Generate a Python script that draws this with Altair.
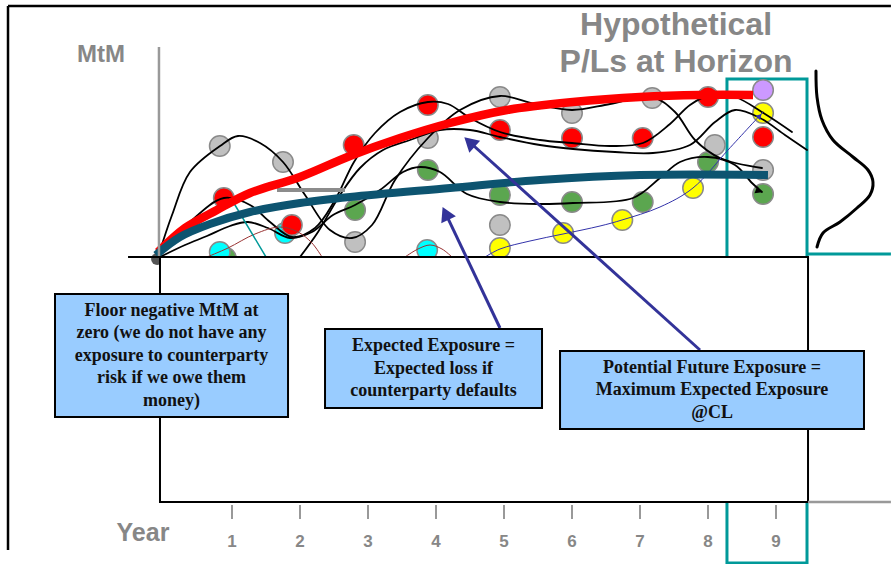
import math
import altair as alt
import pandas as pd

# ---------------------------------------------------------------- canvas
WIDTH, HEIGHT = 891, 564
YEAR_DOMAIN = [-2.4118, 10.6912]   # horizontal axis: years
MTM_DOMAIN = [-15.35, 12.85]       # vertical axis: mark-to-market units

# ---------------------------------------------------- simulated MtM dots
grey_x = [0.82, 1.75, 2.81, 3.88, 4.94, 4.94, 6.0, 7.18, 8.1, 8.81]
grey_y = [5.55, 4.75, 0.75, 5.95, 8.0, 1.6, 7.2, 7.95, 5.6, 4.35]
green_x = [0.91, 2.81, 3.88, 4.94, 6.0, 7.04, 8.0, 8.81]
green_y = [-0.05, 2.35, 4.35, 3.1, 2.75, 2.75, 4.75, 3.15]
cyan_x = [0.82, 1.78, 3.87]
cyan_y = [0.25, 1.2, 0.35]
yellow_x = [4.94, 5.87, 6.74, 7.78, 8.81]
yellow_y = [0.45, 1.2, 1.85, 3.45, 7.2]
red_x = [0.88, 1.88, 2.79, 3.88, 4.94, 6.0, 7.04, 8.0, 8.81]
red_y = [2.95, 1.6, 5.6, 7.6, 6.35, 5.95, 5.95, 8.0, 6.0]
purple_x = [8.81]
purple_y = [8.35]
origin_x = [-0.1]
origin_y = [-0.1]

# ------------------------------------------------ simulated MtM paths
path_a_x = [-0.088, 0.118, 0.382, 0.824, 1.088, 1.412, 1.75, 2.074, 2.441, 2.765, 3.059, 3.397,
            3.882, 4.353, 4.941, 5.456, 6.0, 6.559, 7.176, 7.515, 7.809, 8.176, 8.794]
path_a_y = [0, 2.1, 4.25, 5.55, 6.05, 5.7, 4.75, 3.1, 1.35, 0.95, 1.6, 3.85,
            5.95, 7.35, 8.05, 7.65, 7.35, 7.65, 8.0, 7.25, 5.85, 4.95, 4.45]
path_b_x = [-0.088, 0.382, 0.882, 1.265, 1.559, 1.882, 2.221, 2.515, 2.794, 3.103, 3.471, 3.882,
            4.176, 4.5, 4.941, 5.529, 6.0, 6.559, 7.044, 7.441, 7.735, 8.029, 8.397, 8.838, 9.235]
path_b_y = [0, 1.75, 2.95, 2.6, 1.75, 1.0, 1.45, 2.85, 4.75, 6.2, 7.25, 7.75,
            7.65, 6.95, 6.25, 5.85, 5.7, 5.55, 5.7, 6.65, 7.6, 8.1, 8.0, 7.15, 6.25]
path_c_x = [-0.059, 0.309, 0.632, 0.971, 1.235, 1.529, 1.853, 2.176, 2.485, 2.809, 3.176, 3.515,
            3.765, 4.059, 4.456, 4.941, 5.529, 6.015, 6.897, 7.294, 7.588, 8.0, 8.397, 8.647, 8.794]
path_c_y = [0, 0.6, 1.05, 1.55, 1.75, 1.45, 0.95, 1.25, 2.1, 2.6, 3.35, 4.25,
            4.5, 4.25, 3.15, 2.75, 2.65, 2.7, 2.95, 3.95, 4.75, 5.0, 4.6, 3.7, 3.25]
path_d_x = [2.0, 2.265, 2.588, 2.882, 3.221, 3.618, 4.059, 4.5, 4.941, 5.529, 6.015, 6.632,
            7.191, 7.735, 8.103, 8.397, 8.765, 9.132, 9.456]
path_d_y = [0, 1.25, 3.1, 4.45, 5.35, 5.85, 6.35, 6.35, 6.0, 5.6, 5.4, 5.25,
            5.2, 5.6, 6.75, 7.35, 6.95, 6.1, 5.35]

yellow_path_x = [4.721, 4.941, 5.382, 5.868, 6.412, 6.735, 7.294, 7.779, 8.294, 8.809]
yellow_path_y = [0, 0.4, 0.8, 1.15, 1.55, 1.85, 2.5, 3.45, 5.35, 7.25]
floored_a_x = [0.632, 0.941, 1.338, 1.706, 1.971, 2.176, 2.324]
floored_a_y = [0, 0.45, 1.15, 1.5, 1.25, 0.7, 0]
floored_b_x = [3.544, 3.735, 3.912, 4.088, 4.235]
floored_b_y = [0, 0.4, 0.6, 0.4, 0]
cyan_drop_x = [1.0, 1.5]
cyan_drop_y = [2.85, 0]

# ------------------------------------------------ exposure profiles
pfe_x = [-0.088, 0.309, 0.779, 1.265, 2.0, 2.735, 3.471, 4.206, 5.044, 6.015, 7.0, 7.882, 8.662]
pfe_y = [0.25, 1.45, 2.35, 3.2, 4.0, 5.05, 5.95, 6.7, 7.35, 7.75, 8.0, 8.1, 8.1]
ee_x = [-0.118, 0.235, 0.676, 1.265, 2.0, 2.735, 4.206, 5.529, 7.0, 8.882]
ee_y = [0.1, 1.0, 1.65, 2.25, 2.7, 3.0, 3.45, 3.85, 4.1, 4.1]

# distribution of P/Ls at the horizon (drawn sideways)
bell_x = [9.588, 9.603, 9.676, 9.838, 10.132, 10.353, 10.426, 10.382, 10.191, 9.941, 9.691, 9.603]
bell_y = [9.3, 8.0, 6.85, 5.85, 5.0, 4.35, 3.75, 3.1, 2.45, 1.75, 1.2, 0.5]

# ------------------------------------------------ axis labels
year_ticks = [1, 2, 3, 4, 5, 6, 7, 8, 9]

# ------------------------------------------------ callouts
callout_text = [
    "Floor negative MtM at\nzero (we do not have any\nexposure to counterparty\nrisk if we owe them\nmoney)",
    "Expected Exposure =\nExpected loss if\ncounterparty defaults",
    "Potential Future Exposure =\nMaximum Expected Exposure\n@CL",
]
callout_x = [-1.603, 2.368, 5.824]
callout_x2 = [1.824, 5.559, 10.294]
callout_y = [-1.85, -3.6, -4.7]
callout_y2 = [-8.0, -7.55, -8.6]

arrow_tail_x = [4.941, 7.882]
arrow_tail_y = [-3.55, -4.65]
arrow_head_x = [4.141, 4.493]
arrow_head_y = [2.18, 5.75]

# ================================================================ chart
xs = alt.Scale(domain=YEAR_DOMAIN, nice=False, zero=False)
ys = alt.Scale(domain=MTM_DOMAIN, nice=False, zero=False)
PX_X = WIDTH / (YEAR_DOMAIN[1] - YEAR_DOMAIN[0])
PX_Y = HEIGHT / (MTM_DOMAIN[1] - MTM_DOMAIN[0])
LINE_H = 22.5


def X(f="x"):
    return alt.X(f"{f}:Q", scale=xs, axis=None)


def Y(f="y"):
    return alt.Y(f"{f}:Q", scale=ys, axis=None)


def path_frame(paths):
    rows = []
    for name, (px, py) in paths.items():
        for i, (a, b) in enumerate(zip(px, py)):
            rows.append({"path": name, "i": i, "x": a, "y": b})
    return pd.DataFrame(rows)


def curve(paths, color, width, interp="catmull-rom", cap="round"):
    return alt.Chart(path_frame(paths)).mark_line(
        interpolate=interp, color=color, strokeWidth=width, strokeCap=cap
    ).encode(x=X(), y=Y(), detail="path:N", order="i:Q")


def segments(rows):
    return alt.Chart(pd.DataFrame(rows)).mark_rule().encode(
        x=X("x"), x2=alt.X2("x2:Q"), y=Y("y"), y2=alt.Y2("y2:Q"),
        color=alt.Color("c:N", scale=None),
        strokeWidth=alt.StrokeWidth("w:Q", scale=None),
    )


def arrow_angle(tx, ty, hx, hy):
    dx = (hx - tx) * PX_X
    dy = -(hy - ty) * PX_Y
    return math.degrees(math.atan2(dx, -dy)) % 360


TEAL = "#009999"
GREY_TXT = "#878787"

# horizon window
horizon_box = alt.Chart(pd.DataFrame({"x": [8.279], "x2": [9.456], "y": [8.9], "y2": [-15.3]})).mark_rect(
    fill=None, stroke=TEAL, strokeWidth=3
).encode(x=X(), x2=alt.X2("x2:Q"), y=Y(), y2=alt.Y2("y2:Q"))

# dots
dot_series = [
    ("#5BA64F", green_x, green_y),
    ("#00FFFF", cyan_x, cyan_y),
    ("#C0C0C0", grey_x, grey_y),
    ("#FFFF00", yellow_x, yellow_y),
    ("#FF0000", red_x, red_y),
    ("#CC99FF", purple_x, purple_y),
]
dot_rows = []
for fill, dx, dy in dot_series:
    for a, b in zip(dx, dy):
        dot_rows.append({"x": a, "y": b, "fill": fill})
dots = alt.Chart(pd.DataFrame(dot_rows)).mark_circle(
    size=420, opacity=1, stroke="#8a8a8a", strokeWidth=1.5
).encode(x=X(), y=Y(), fill=alt.Fill("fill:N", scale=None))

origin_dot = alt.Chart(pd.DataFrame({"x": origin_x, "y": origin_y})).mark_circle(
    size=150, opacity=1, color="#555555"
).encode(x=X(), y=Y())

black_paths = curve({"a": (path_a_x, path_a_y), "b": (path_b_x, path_b_y),
                     "c": (path_c_x, path_c_y), "d": (path_d_x, path_d_y)}, "black", 1.8)
yellow_path = curve({"y": (yellow_path_x, yellow_path_y)}, "#3333AA", 1)
floored = curve({"fa": (floored_a_x, floored_a_y), "fb": (floored_b_x, floored_b_y)}, "#993333", 1)
cyan_drop = curve({"cd": (cyan_drop_x, cyan_drop_y)}, TEAL, 1.5, interp="linear")

grey_bar = segments([{"x": 1.662, "x2": 2.662, "y": 3.35, "y2": 3.35, "c": "#8c8c8c", "w": 4}])

pfe_line = curve({"pfe": (pfe_x, pfe_y)}, "#FF0000", 8.5, cap="butt")
ee_line = curve({"ee": (ee_x, ee_y)}, "#0D5470", 8, cap="butt")
bell = curve({"bell": (bell_x, bell_y)}, "black", 3)

# small arrowheads on the horizon
small_heads = pd.DataFrame({
    "x": [8.75, 8.76], "y": [3.3, 7.05],
    "angle": [arrow_angle(8.35, 3.85, 8.75, 3.3), arrow_angle(8.294, 5.35, 8.76, 7.05)],
    "c": ["black", "#3333AA"], "s": [60, 40],
})
small_head_marks = alt.Chart(small_heads).mark_point(shape="triangle-up", filled=True, opacity=1).encode(
    x=X(), y=Y(), angle=alt.Angle("angle:Q", scale=None),
    color=alt.Color("c:N", scale=None), size=alt.Size("s:Q", scale=None),
)

# white panel below zero
panel = alt.Chart(pd.DataFrame({"x": [-0.059], "x2": [9.471], "y": [0], "y2": [-12.25]})).mark_rect(
    fill="white", stroke="black", strokeWidth=2
).encode(x=X(), x2=alt.X2("x2:Q"), y=Y(), y2=alt.Y2("y2:Q"))

frame_rows = [
    {"x": -2.294, "x2": 10.69, "y": 12.55, "y2": 12.55, "c": "black", "w": 2.5},
    {"x": -2.294, "x2": -2.294, "y": 12.55, "y2": -14.65, "c": "black", "w": 2.5},
    {"x": -0.074, "x2": -0.074, "y": 10.5, "y2": 0.05, "c": "#999999", "w": 2.5},
    {"x": -0.529, "x2": -0.059, "y": 0, "y2": 0, "c": "black", "w": 2},
    {"x": 9.471, "x2": 10.69, "y": 0.15, "y2": 0.15, "c": TEAL, "w": 3},
    {"x": 9.471, "x2": 10.69, "y": -12.25, "y2": -12.25, "c": "#999999", "w": 2.5},
]
for t in year_ticks:
    frame_rows.append({"x": t, "x2": t, "y": -12.4, "y2": -13.1, "c": "#999999", "w": 2})
frame = segments(frame_rows)

# callout arrows
arrow_df = pd.DataFrame({
    "x": arrow_tail_x, "y": arrow_tail_y, "x2": arrow_head_x, "y2": arrow_head_y,
})
arrow_df["angle"] = [arrow_angle(a, b, c, d) for a, b, c, d in
                     zip(arrow_tail_x, arrow_tail_y, arrow_head_x, arrow_head_y)]
arrow_lines = alt.Chart(arrow_df).mark_rule(color="#333399", strokeWidth=3).encode(
    x=X("x"), y=Y("y"), x2=alt.X2("x2:Q"), y2=alt.Y2("y2:Q"))
arrow_heads = alt.Chart(arrow_df).mark_point(
    shape="triangle-up", filled=True, opacity=1, color="#333399", size=260
).encode(x=X("x2"), y=Y("y2"), angle=alt.Angle("angle:Q", scale=None))

# callout boxes; multi-line text is anchored on its first line, so lift it
# by half the block height to centre it in the box
box_df = pd.DataFrame({"x": callout_x, "x2": callout_x2, "y": callout_y, "y2": callout_y2,
                       "text": callout_text})
box_df["cx"] = (box_df["x"] + box_df["x2"]) / 2
n_lines = box_df["text"].str.count("\n")
box_df["cy"] = (box_df["y"] + box_df["y2"]) / 2 + n_lines * LINE_H / 2 / PX_Y
boxes = alt.Chart(box_df).mark_rect(fill="#99CCFF", stroke="black", strokeWidth=2).encode(
    x=X(), x2=alt.X2("x2:Q"), y=Y(), y2=alt.Y2("y2:Q"))
box_text = alt.Chart(box_df).mark_text(
    font="Liberation Serif", fontWeight="bold", fontSize=18, lineHeight=LINE_H,
    lineBreak="\n", align="center", baseline="middle", color="#111111"
).encode(x=X("cx"), y=Y("cy"), text="text:N")

# labels
tick_labels = alt.Chart(pd.DataFrame({"x": year_ticks, "y": [-14.25] * 9,
                                      "t": [str(t) for t in year_ticks]})).mark_text(
    font="Liberation Sans", fontWeight="bold", fontSize=17, color=GREY_TXT,
    align="center", baseline="middle"
).encode(x=X(), y=Y(), text="t:N")

titles = pd.DataFrame({
    "x": [-0.309, -0.926, 7.53, 7.53],
    "y": [-13.8, 10.1, 11.6, 9.75],
    "t": ["Year", "MtM", "Hypothetical", "P/Ls at Horizon"],
    "s": [25, 24, 32, 32],
})
title_marks = alt.Chart(titles).mark_text(
    font="Liberation Sans", fontWeight="bold", color=GREY_TXT, align="center", baseline="middle"
).encode(x=X(), y=Y(), text="t:N", size=alt.Size("s:Q", scale=None))

chart = alt.layer(
    horizon_box, dots, origin_dot, black_paths, yellow_path, floored, cyan_drop, grey_bar,
    pfe_line, ee_line, small_head_marks, bell, panel, frame, arrow_lines, arrow_heads,
    boxes, box_text, tick_labels, title_marks,
).properties(
    width=WIDTH, height=HEIGHT, padding=0,
    autosize=alt.AutoSizeParams(type="none"), background="white",
).configure_view(stroke=None)

chart.save("out.html", embed_options={"renderer": "svg", "actions": False})
